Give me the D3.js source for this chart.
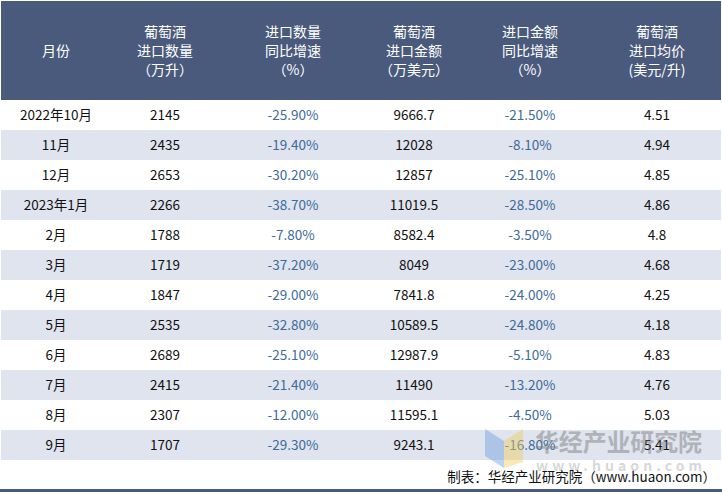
<!DOCTYPE html><html><head><meta charset="utf-8"><script src="https://cdn.jsdelivr.net/npm/d3@7"></script>
<style>body{margin:0;background:#fff}</style></head><body><svg id="c" width="722" height="492"></svg>
<script>
const headers=[["月份"],["葡萄酒","进口数量","（万升）"],["进口数量","同比增速","（%）"],["葡萄酒","进口金额","（万美元）"],["进口金额","同比增速","（%）"],["葡萄酒","进口均价","(美元/升)"]];
const months=["2022年10月","11月","12月","2023年1月","2月","3月","4月","5月","6月","7月","8月","9月"];
const qty=["2145","2435","2653","2266","1788","1719","1847","2535","2689","2415","2307","1707"];
const qtyYoY=["-25.90%","-19.40%","-30.20%","-38.70%","-7.80%","-37.20%","-29.00%","-32.80%","-25.10%","-21.40%","-12.00%","-29.30%"];
const amt=["9666.7","12028","12857","11019.5","8582.4","8049","7841.8","10589.5","12987.9","11490","11595.1","9243.1"];
const amtYoY=["-21.50%","-8.10%","-25.10%","-28.50%","-3.50%","-23.00%","-24.00%","-24.80%","-5.10%","-13.20%","-4.50%","-16.80%"];
const price=["4.51","4.94","4.85","4.86","4.8","4.68","4.25","4.18","4.83","4.76","5.03","5.41"];
const cols=[months,qty,qtyYoY,amt,amtYoY,price];
const cx=[56,165,293,414,530,657];
const svg=d3.select("#c");
const F="'Noto Sans CJK SC',sans-serif";
svg.append("rect").attr("x",1).attr("y",1).attr("width",720).attr("height",99).attr("fill","#4a5a7c");
headers.forEach((h,i)=>{const y0=51-(h.length-1)*9.5;h.forEach((t,j)=>svg.append("text").attr("x",cx[i]).attr("y",y0+j*19+5).attr("text-anchor","middle").attr("fill","#fff").attr("font-family",F).attr("font-size",14).text(t));});
const y=d3.scaleBand().domain(d3.range(12)).range([100,460]);
d3.range(12).forEach(r=>{
 if(r%2==1)svg.append("rect").attr("x",1).attr("y",y(r)).attr("width",720).attr("height",y.bandwidth()).attr("fill","#dfe4ee");
 cols.forEach((c,i)=>svg.append("text").attr("x",cx[i]).attr("y",y(r)+y.bandwidth()/2+5).attr("text-anchor","middle").attr("font-family",F).attr("font-size",13.5).attr("fill",(i==2||i==4)?"#3d6b9a":"#111").text(c[r]));
});
const wm=svg.append("g").attr("opacity",0.45);
wm.append("polygon").attr("points","485,429 504,441 504,468 485,456").attr("fill","#6fa0e0");
wm.append("polygon").attr("points","504,441 523,429 523,462 504,468").attr("fill","#f0d060");
wm.append("text").attr("x",535).attr("y",451).attr("textLength",167).attr("font-family",F).attr("font-size",24).attr("font-weight","bold").attr("fill","#777").text("华经产业研究院");
wm.append("text").attr("x",536).attr("y",471).attr("textLength",166).attr("font-family",F).attr("font-size",14).attr("font-weight","bold").attr("fill","#aaa").text("www.huaon.com");
svg.append("text").attr("x",716).attr("y",482).attr("text-anchor","end").attr("font-family",F).attr("font-size",13.5).attr("fill","#111").text("制表：华经产业研究院（www.huaon.com）");
svg.append("rect").attr("x",0).attr("y",489).attr("width",722).attr("height",3).attr("fill","#4a5a7c");
</script></body></html>
